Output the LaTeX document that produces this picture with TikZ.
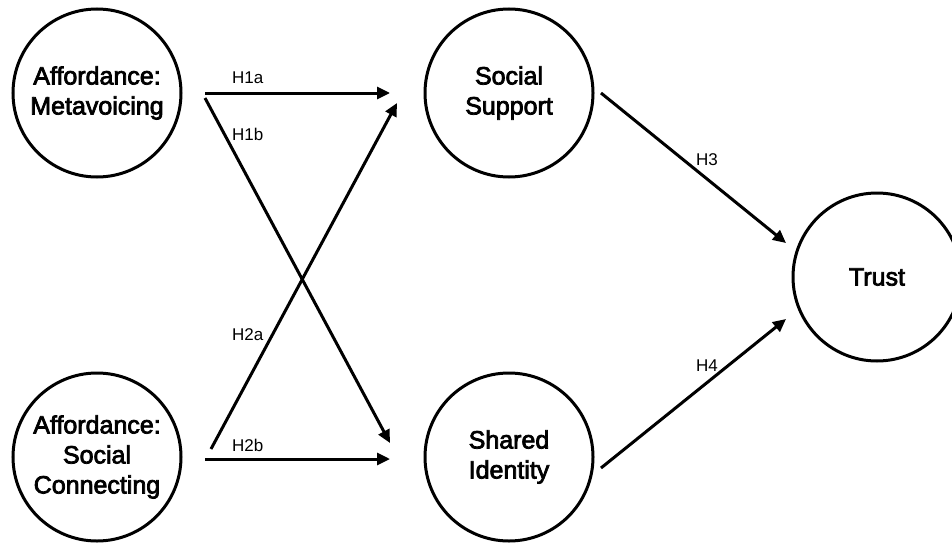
\documentclass[tikz,border=0pt]{standalone}
\usepackage{fontspec}
\setmainfont{Liberation Sans}
\newfontfamily\conceptfont{Liberation Sans}[FakeBold=3]
\usetikzlibrary{arrows.meta}
\begin{document}
\begin{tikzpicture}[x=1pt,y=-1pt,
  construct/.style={circle, draw, line width=3pt, minimum size=168pt,
    inner sep=0pt, outer sep=0pt, align=center,
    font=\conceptfont\fontsize{25}{30}\selectfont},
  hpath/.style={line width=3pt, -{Triangle[length=13pt,width=12pt]}},
  hyp/.style={anchor=base west, inner sep=0pt, font=\fontsize{17}{20}\selectfont}]
\useasboundingbox (0,0) rectangle (952,543);
\clip (0,0) rectangle (952,543);

% constructs
\node[construct] (meta)   at (97,93)   {Affordance:\\Metavoicing};
\node[construct] (conn)   at (97,457)  {Affordance:\\Social\\Connecting};
\node[construct] (supp)   at (509,93)  {Social\\Support};
\node[construct] (ident)  at (509,457) {Shared\\Identity};
\node[construct] (trust)  at (877,277) {Trust};

% hypothesised paths
\draw[hpath] ([shift={(108,0)}]meta.center)  -- ([shift={(-119,0)}]supp.center);
\draw[hpath] ([shift={(108,5)}]meta.center)  -- ([shift={(-119,-14)}]ident.center);
\draw[hpath] ([shift={(114,-8)}]conn.center) -- ([shift={(-112,10)}]supp.center);
\draw[hpath] ([shift={(108,2)}]conn.center)  -- ([shift={(-119,2)}]ident.center);
\draw[hpath] ([shift={(92,0)}]supp.center)   -- ([shift={(-91,-34)}]trust.center);
\draw[hpath] ([shift={(92,11)}]ident.center) -- ([shift={(-91,42)}]trust.center);

% path labels
\node[hyp] (h1a) at (232,83)  {H1a};
\node[hyp] (h1b) at (232,140) {H1b};
\node[hyp] (h2a) at (232,340) {H2a};
\node[hyp] (h2b) at (232,451) {H2b};
\node[hyp] (h3)  at (696,165) {H3};
\node[hyp] (h4)  at (696,371) {H4};
\end{tikzpicture}
\end{document}
